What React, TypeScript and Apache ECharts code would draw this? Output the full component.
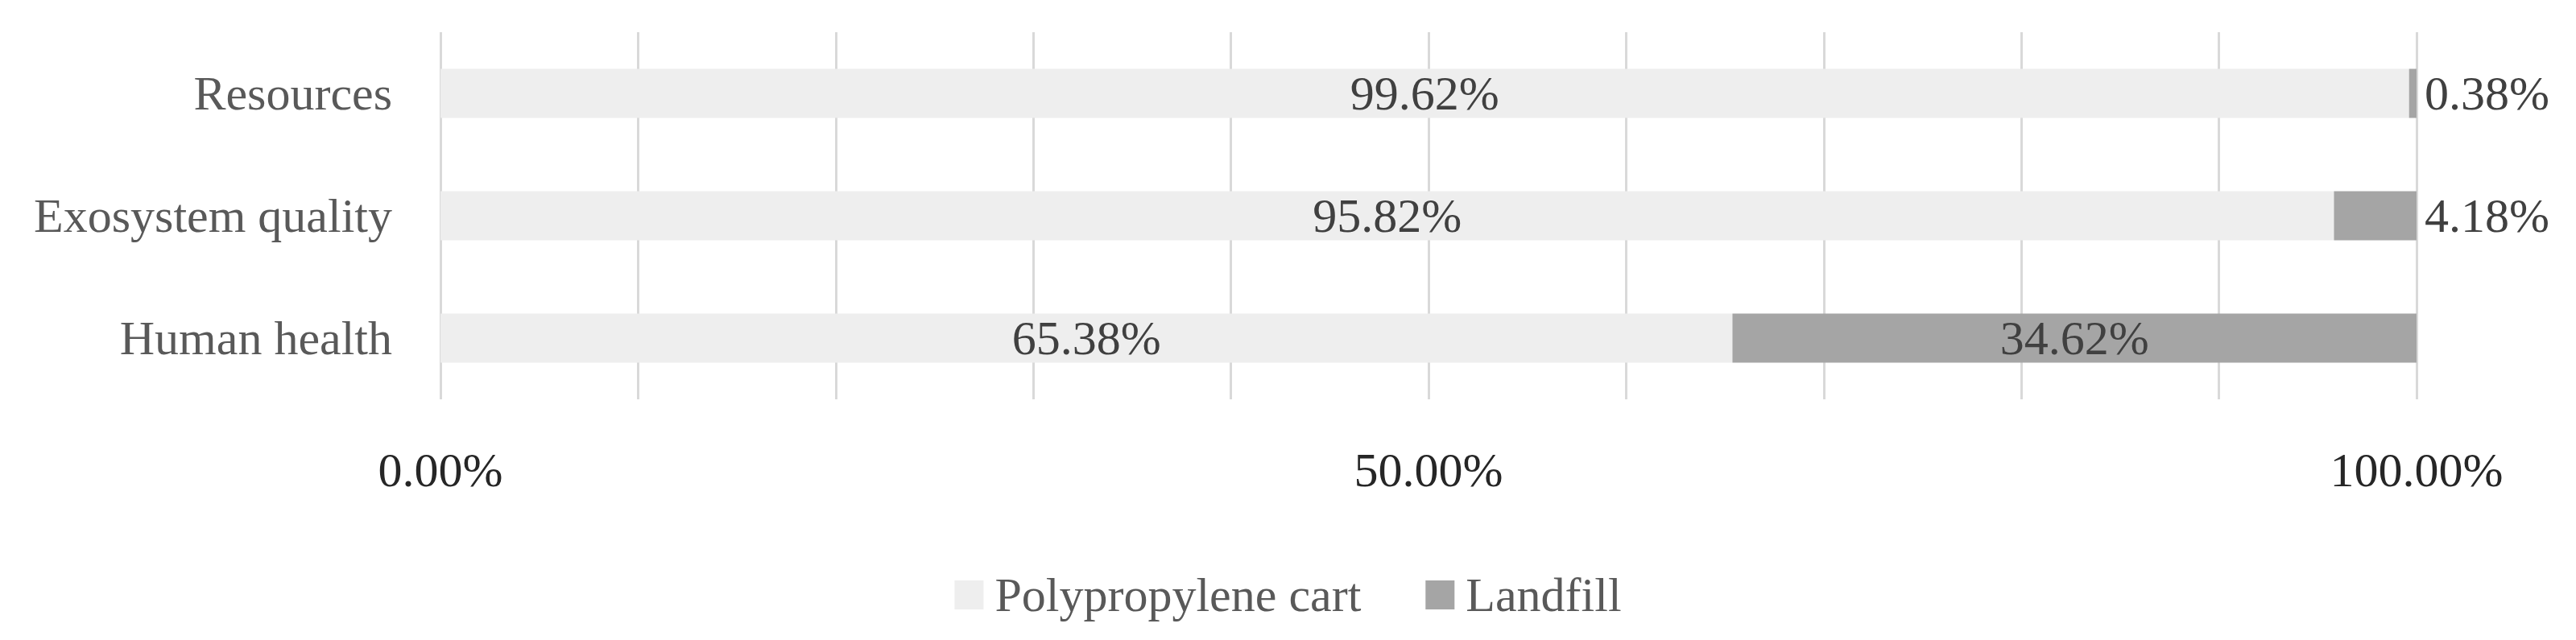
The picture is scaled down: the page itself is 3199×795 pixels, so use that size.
import React, { useEffect, useRef } from "react";
import * as echarts from "echarts";

const categories = ["Human health", "Exosystem quality", "Resources"];
const polypropyleneValues = [65.38, 95.82, 99.62];
const landfillValues = [34.62, 4.18, 0.38];
const seriesNames = ["Polypropylene cart", "Landfill"];
const labeledTicks = [0, 50, 100];

const FONT = "Liberation Serif";

export default function App() {
  const ref = useRef<HTMLDivElement>(null);
  useEffect(() => {
    if (!ref.current) return;
    const chart = echarts.init(ref.current, undefined, { renderer: "svg" });
    chart.setOption({
      animation: false,
      backgroundColor: "#ffffff",
      textStyle: { fontFamily: FONT },
      grid: { left: 547, right: 198, top: 40, height: 456, containLabel: false },
      xAxis: {
        type: "value",
        min: 0,
        max: 100,
        interval: 10,
        axisLine: { show: false },
        axisTick: { show: false },
        splitLine: { show: true, lineStyle: { color: "#d9d9d9", width: 3 } },
        axisLabel: {
          margin: 58,
          fontSize: 60,
          fontFamily: FONT,
          color: "#262626",
          formatter: (v: number) =>
            labeledTicks.includes(Math.round(v)) ? v.toFixed(2) + "%" : "",
        },
      },
      yAxis: {
        type: "category",
        data: categories,
        axisLine: { show: false },
        axisTick: { show: false },
        splitLine: { show: false },
        axisLabel: { margin: 60, fontSize: 60, fontFamily: FONT, color: "#595959" },
      },
      legend: {
        bottom: undefined,
        top: 704,
        left: "center",
        itemWidth: 36,
        itemHeight: 36,
        itemGap: 80,
        icon: "rect",
        textStyle: { fontSize: 60, fontFamily: FONT, color: "#595959", padding: [0, 0, 0, 9] },
        data: seriesNames,
      },
      series: [
        {
          name: seriesNames[0],
          type: "bar",
          stack: "total",
          barWidth: 61,
          itemStyle: { color: "#eeeeee" },
          label: {
            show: true,
            position: "inside",
            fontSize: 60,
            fontFamily: FONT,
            color: "#404040",
            formatter: (p: any) => Number(p.value).toFixed(2) + "%",
          },
          data: polypropyleneValues,
        },
        {
          name: seriesNames[1],
          type: "bar",
          stack: "total",
          barWidth: 61,
          itemStyle: { color: "#a5a5a5" },
          label: {
            show: true,
            fontSize: 60,
            fontFamily: FONT,
            color: "#404040",
            formatter: (p: any) => Number(p.value).toFixed(2) + "%",
          },
          data: landfillValues.map((v) => ({
            value: v,
            label: v < 10 ? { position: "right", distance: 10 } : { position: "inside" },
          })),
        },
      ],
    });
    return () => chart.dispose();
  }, []);
  return (
    <div
      ref={ref}
      style={{ position: "fixed", left: 0, top: 0, width: 3199, height: 795 }}
    />
  );
}
